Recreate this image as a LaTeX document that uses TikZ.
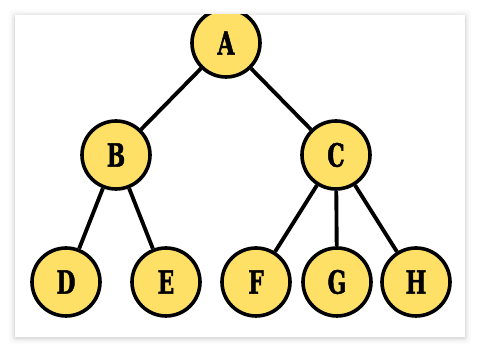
\documentclass[tikz,border=0pt]{standalone}
\usepackage{fontspec}
\newfontfamily\nodefont[FakeStretch=0.68, FakeBold=1.5]{DejaVu Serif}
\usepackage{xcolor}
\definecolor{nodefill}{HTML}{FFE066}
\definecolor{cardshade}{HTML}{000000}

\begin{document}
\begin{tikzpicture}[
  x=0.75pt, y=-0.75pt,
  vertex/.style={circle, draw=black, line width=2.7pt, fill=nodefill, minimum size=51pt, inner sep=0pt, font=\nodefont\bfseries\fontsize{24}{24}\selectfont},
  link/.style={line width=2.9pt, black}
]
  \useasboundingbox (0,0) rectangle (480,352);
  \fill[white] (0,0) rectangle (480,352);
  % soft card shadow
  \foreach \s/\o in {6/0.015, 4/0.025, 2.5/0.035, 1.2/0.05}
    \fill[cardshade, opacity=\o, rounded corners=3pt] (15-\s,15-\s+1) rectangle (465+\s,337+\s+1);
  \fill[white] (15,15) rectangle (465,337);
  \begin{scope}
    \clip (15,15) rectangle (465,337);
    \node[vertex] (a) at (226,43) {A};
    \node[vertex] (b) at (116,155) {B};
    \node[vertex] (c) at (336,155) {C};
    \node[vertex] (d) at (66,282) {D};
    \node[vertex] (e) at (166,282) {E};
    \node[vertex] (f) at (256,282) {F};
    \node[vertex] (g) at (337,282) {G};
    \node[vertex] (h) at (416,282) {H};
    \draw[link] (a) -- (b);
    \draw[link] (a) -- (c);
    \draw[link] (b) -- (d);
    \draw[link] (b) -- (e);
    \draw[link] (c) -- (f);
    \draw[link] (c) -- (g);
    \draw[link] (c) -- (h);
  \end{scope}
\end{tikzpicture}
\end{document}
